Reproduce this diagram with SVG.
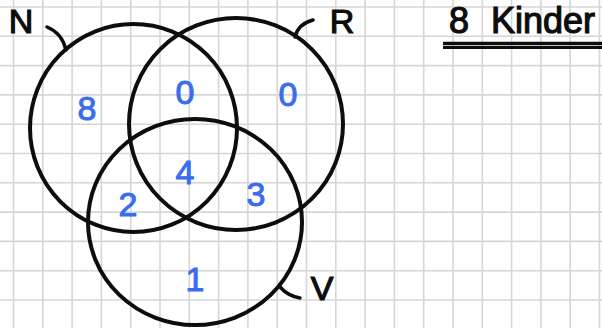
<svg xmlns="http://www.w3.org/2000/svg" width="602" height="328" viewBox="0 0 602 328">
<style>
.grid{stroke:#d6d6d6;stroke-width:1.6;fill:none}
.ring{fill:none;stroke:#0d0d0d;stroke-width:4}
.tick{fill:none;stroke:#0d0d0d;stroke-width:3.5;stroke-linecap:round}
.lbl{font-family:"Liberation Sans",Arial,sans-serif;font-size:34px;fill:#0d0d0d;stroke:#0d0d0d;stroke-width:1.2;text-anchor:middle}
.num{font-family:"Liberation Sans",Arial,sans-serif;font-size:34px;fill:#3a6cf2;stroke:#3a6cf2;stroke-width:1;text-anchor:middle}
</style>
<rect width="602" height="328" fill="#ffffff"/>
<path class="grid" d="M13.5,0V328M42.8,0V328M72.1,0V328M101.4,0V328M130.7,0V328M160,0V328M189.3,0V328M218.6,0V328M247.9,0V328M277.2,0V328M306.5,0V328M335.8,0V328M365.1,0V328M394.4,0V328M423.7,0V328M453,0V328M482.3,0V328M511.6,0V328M540.9,0V328M570.2,0V328M599.5,0V328M0,7H602M0,36.3H602M0,65.6H602M0,94.9H602M0,124.2H602M0,153.5H602M0,182.8H602M0,212.1H602M0,241.4H602M0,270.7H602M0,300H602"/>
<g id="setN"><ellipse class="ring" cx="133.5" cy="128" rx="103.5" ry="104"/></g>
<g id="setR"><ellipse class="ring" cx="236" cy="124" rx="107" ry="106"/></g>
<g id="setV"><ellipse class="ring" cx="195" cy="222" rx="107" ry="103"/></g>
<g id="connectors">
<path class="tick" d="M47,27 Q62,33 66,50"/>
<path class="tick" d="M295,37 Q298,24 313,20"/>
<path class="tick" d="M280,287 Q288,296 300,298"/>
</g>
<g id="labelN"><text class="lbl" x="21" y="33">N</text></g>
<g id="labelR"><text class="lbl" x="342" y="33">R</text></g>
<g id="labelV"><text class="lbl" x="322" y="300">V</text></g>
<g id="title">
<text x="449" y="33" font-family="Liberation Sans,Arial,sans-serif" font-size="36" fill="#0d0d0d" stroke="#0d0d0d" stroke-width="1.2" word-spacing="12">8 Kinder</text>
<line x1="443" y1="43.5" x2="602" y2="43.5" stroke="#0d0d0d" stroke-width="3.5"/>
<line x1="443" y1="47.5" x2="602" y2="47.5" stroke="#0d0d0d" stroke-width="3"/>
</g>
<g id="regions">
<text class="num" x="87" y="120">8</text>
<text class="num" x="185" y="104">0</text>
<text class="num" x="288" y="106">0</text>
<text class="num" x="185" y="184" font-size="44">4</text>
<text class="num" x="128" y="216">2</text>
<text class="num" x="256" y="206" font-size="38">3</text>
<text class="num" x="195" y="291">1</text>
</g>
</svg>
